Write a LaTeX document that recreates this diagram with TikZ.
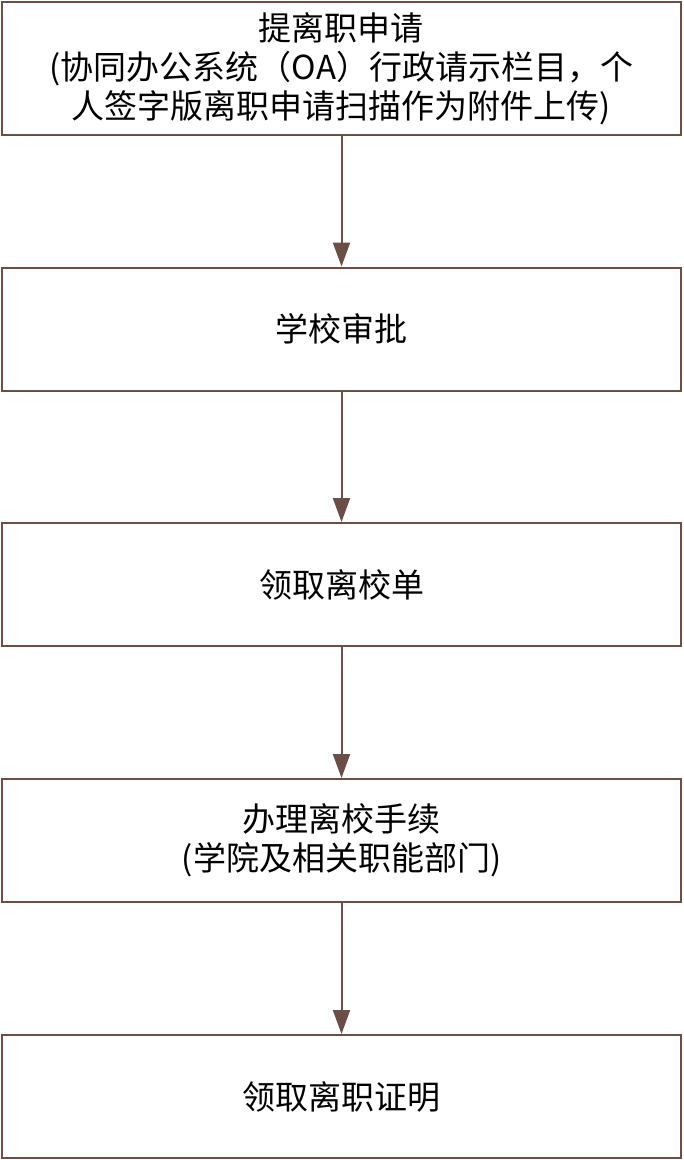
\documentclass[tikz,border=0pt]{standalone}
\usepackage{fontspec}
\setmainfont{Noto Sans CJK SC}
\usetikzlibrary{arrows.meta}
\definecolor{flowline}{RGB}{107,78,70}
\tikzset{font={\fontsize{33pt}{39pt}\selectfont}}
\tikzset{stepbox/.style={draw=flowline, line width=2pt, fill=white, align=center,
    minimum width=679pt, minimum height=123pt, inner sep=0pt}}
\tikzset{flow/.style={draw=flowline, line width=2pt, -{Triangle[length=24pt,width=17pt]}}}

\begin{document}
\begin{tikzpicture}[x=1pt,y=1pt]
      \useasboundingbox (0,0) rectangle (684,-1160);
      %boxes
      \node[stepbox, minimum height=133pt] (apply) at (341.5,-68.5)
        {提离职申请\\(协同办公系统（OA）行政请示栏目，个\\人签字版离职申请扫描作为附件上传)};
      \node[stepbox] (approve) at (341.5,-329) {学校审批};
      \node[stepbox] (form) at (341.5,-584.5) {领取离校单};
      \node[stepbox] (leave) at (341.5,-840.5) {办理离校手续\\(学院及相关职能部门)};
      \node[stepbox] (proof) at (341.5,-1096.5) {领取离职证明};
      %arrows
      \draw[flow] (apply) -- (approve);
      \draw[flow] (approve) -- (form);
      \draw[flow] (form) -- (leave);
      \draw[flow] (leave) -- (proof);
    \end{tikzpicture}
\end{document}
